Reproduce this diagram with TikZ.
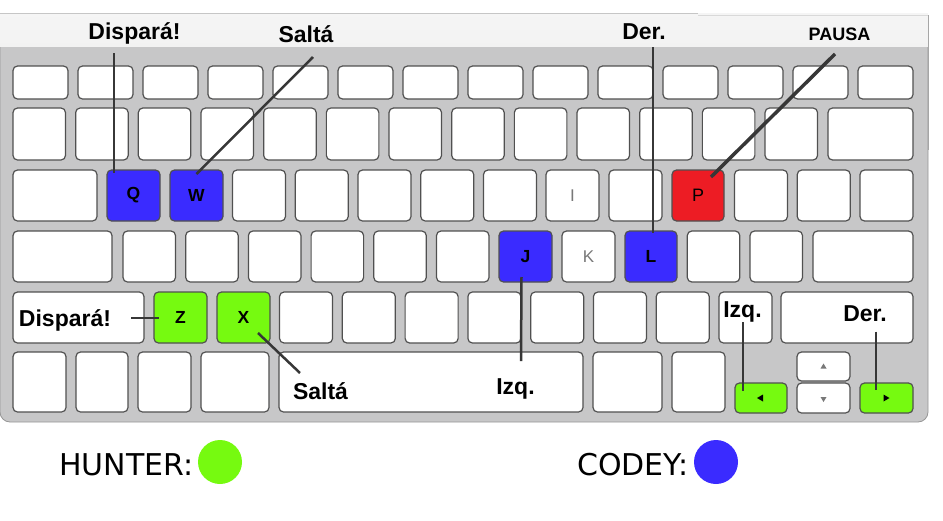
\documentclass[tikz,border=0pt]{standalone}
\usepackage{fontspec}
\setmainfont{Liberation Sans}
\newfontfamily\dejavu{DejaVu Sans}
\usetikzlibrary{calc}
\definecolor{kbgrey}{RGB}{199,199,200}
\definecolor{kbedge}{RGB}{150,150,150}
\definecolor{keyline}{RGB}{80,80,80}
\definecolor{connline}{RGB}{55,55,55}
\definecolor{cblue}{RGB}{58,43,255}
\definecolor{cgreen}{RGB}{118,250,16}
\definecolor{cred}{RGB}{237,28,36}
\definecolor{softtext}{RGB}{120,120,120}
\newcommand\kbkey[7]{\node[keybox,#6,minimum width={(#4-#2)*1pt},minimum height={(#5-#3)*1pt}] (#1) at ({(#2+#4)/2},{(#3+#5)/2}) {#7};}
\begin{document}
\begin{tikzpicture}[x=1pt,y=-1pt,
  keybox/.style={draw=keyline,line width=1.2pt,rounded corners=4.5pt,fill=white,inner sep=0pt,outer sep=0pt,
    font=\fontsize{17.5}{17.5}\selectfont\bfseries},
  softkey/.style={font=\fontsize{17}{17}\selectfont,text=softtext},
  lbl/.style={font=\fontsize{23}{23}\selectfont\bfseries,inner sep=0pt,anchor=base},
  conn/.style={draw=connline,line width=2.5pt},
  dot/.style={circle,minimum size=44pt,inner sep=0pt},
  legend/.style={font=\dejavu\fontsize{30}{30}\selectfont,anchor=base west,inner sep=0pt}]
\useasboundingbox (0,0) rectangle (943,520);
% keyboard body
\filldraw[fill=kbgrey,draw=kbedge,line width=0.8pt,rounded corners=10pt] (0,30) rectangle (928,422);
\shade[top color=gray!8,middle color=white,bottom color=gray!10] (0,13) rectangle (928,46);
\draw[gray!45,line width=0.8pt] (0,13) -- (698,13);
\draw[gray!30,line width=0.8pt] (698,15) -- (928,15);
\draw[gray!70,line width=1pt] (928,15) -- (928,150);
% row 1
\foreach \i in {0,...,13}{\pgfmathsetmacro\xa{13+65*\i}\pgfmathsetmacro\xb{\xa+55}\kbkey{ra\i}{\xa}{66}{\xb}{99}{}{}}
% row 2
\foreach \i in {0,...,12}{\pgfmathsetmacro\xa{13+62.67*\i}\pgfmathsetmacro\xb{\xa+52.5}\kbkey{rb\i}{\xa}{108}{\xb}{160}{}{}}
\kbkey{rbw}{828}{108}{913}{160}{}{}
% row 3
\kbkey{rcw}{13}{170}{97}{221}{}{}
\foreach \i in {2,3,4,5,6,8,10,11,12}{\pgfmathsetmacro\xa{107+62.75*\i}\pgfmathsetmacro\xb{\xa+53}\kbkey{rc\i}{\xa}{170}{\xb}{221}{}{}}
\kbkey{Q}{107}{170}{160}{221}{fill=cblue}{Q}
\kbkey{W}{170}{170}{223}{221}{fill=cblue}{W}
\kbkey{I}{546}{170}{599}{221}{softkey}{I}
\kbkey{P}{672}{170}{724}{221}{fill=cred,font=\fontsize{18}{18}\selectfont}{P}
% row 4
\kbkey{rdw}{13}{231}{112}{282}{}{}
\foreach \i in {0,1,2,3,4,5,9,10}{\pgfmathsetmacro\xa{123+62.7*\i}\pgfmathsetmacro\xb{\xa+52.5}\kbkey{rd\i}{\xa}{231}{\xb}{282}{}{}}
\kbkey{J}{499}{231}{552}{282}{fill=cblue}{J}
\kbkey{K}{562}{231}{615}{282}{softkey}{K}
\kbkey{L}{625}{231}{677}{282}{fill=cblue}{L}
\kbkey{rdr}{813}{231}{913}{282}{}{}
% row 5
\kbkey{kDis}{13}{292}{144}{343}{}{}
\kbkey{Z}{154}{292}{207}{343}{fill=cgreen}{Z}
\kbkey{X}{217}{292}{270}{343}{fill=cgreen}{X}
\foreach \i in {2,...,8}{\pgfmathsetmacro\xa{154+62.78*\i}\pgfmathsetmacro\xb{\xa+53}\kbkey{re\i}{\xa}{292}{\xb}{343}{}{}}
\kbkey{kIzq}{719}{292}{772}{343}{}{}
\kbkey{kDer}{781}{292}{913}{343}{}{}
% row 6
\kbkey{rf0}{13}{352}{66}{412}{}{}
\kbkey{rf1}{76}{352}{128}{412}{}{}
\kbkey{rf2}{138}{352}{191}{412}{}{}
\kbkey{rf3}{201}{352}{269}{412}{}{}
\kbkey{space}{279}{352}{583}{412}{}{}
\kbkey{rf5}{593}{352}{662}{412}{}{}
\kbkey{rf6}{672}{352}{725}{412}{}{}
\kbkey{la}{735}{383}{787}{413}{fill=cgreen}{}
\kbkey{ua}{797}{352}{850}{381}{}{}
\kbkey{da}{797}{383}{850}{413}{}{}
\kbkey{rarr}{860}{383}{913}{413}{fill=cgreen}{}
% arrow glyphs
\fill[black] ($(la.center)+(-4,0)$) -- ++(6,-3.5) -- ++(0,7) -- cycle;
\fill[black] ($(rarr.center)+(3,0)$) -- ++(-6,-3.5) -- ++(0,7) -- cycle;
\fill[softtext] ($(ua.center)+(0,-3)$) -- ++(3,5) -- ++(-6,0) -- cycle;
\fill[softtext] ($(da.center)+(0,4)$) -- ++(3,-5) -- ++(-6,0) -- cycle;
% labels
\node[lbl] (disTop) at (134.5,39) {Dispará!};
\node[lbl] (saltaTop) at (306,42) {Saltá};
\node[lbl] (derTop) at (644,39) {Der.};
\node[lbl,font=\fontsize{18}{18}\selectfont\bfseries] (pausa) at (839.5,40) {PAUSA};
\node[lbl] (disKey) at (65,326) {Dispará!};
\node[lbl] (saltaBot) at (320.5,399) {Saltá};
\node[lbl] (izqSpace) at (515.5,394) {Izq.};
\node[lbl] (izqKey) at (742.5,317) {Izq.};
\node[lbl] (derKey) at (865,321.5) {Der.};
% connectors
\draw[conn] ($(disTop.base)+(-20.5,14)$) -- ($(Q.north west)+(7,3)$);
\draw[conn] ($(saltaTop.base)+(7,15)$) -- ($(W.north)+(0,4)$);
\draw[conn] ($(derTop.base)+(9,8)$) -- ($(L.north)+(2,2)$);
\draw[conn,line width=3.5pt] ($(pausa.base)+(-4.5,14)$) -- ($(P.north)+(13,7)$);
\draw[conn] ($(J.south)+(-4,-5)$) -- ($(izqSpace.base)+(5.5,-33)$);
\draw[conn] ($(disKey.base)+(66,-8)$) -- ($(Z.west)+(5,0.5)$);
\draw[conn] ($(X.south east)+(-12,-10)$) -- ($(saltaBot.base)+(-20.5,-26)$);
\draw[conn] ($(izqKey.base)+(0.5,5)$) -- ($(la.north)+(-18,8)$);
\draw[conn] ($(derKey.base)+(11,10)$) -- ($(rarr.north)+(-10.5,7)$);
% legend
\node[legend] (hunter) at (59,475) {HUNTER:};
\node[dot,fill=cgreen] (hdot) at (220,462) {};
\node[legend] (codey) at (577,475) {CODEY:};
\node[dot,fill=cblue] (cdot) at (716,462) {};
\end{tikzpicture}
\end{document}
